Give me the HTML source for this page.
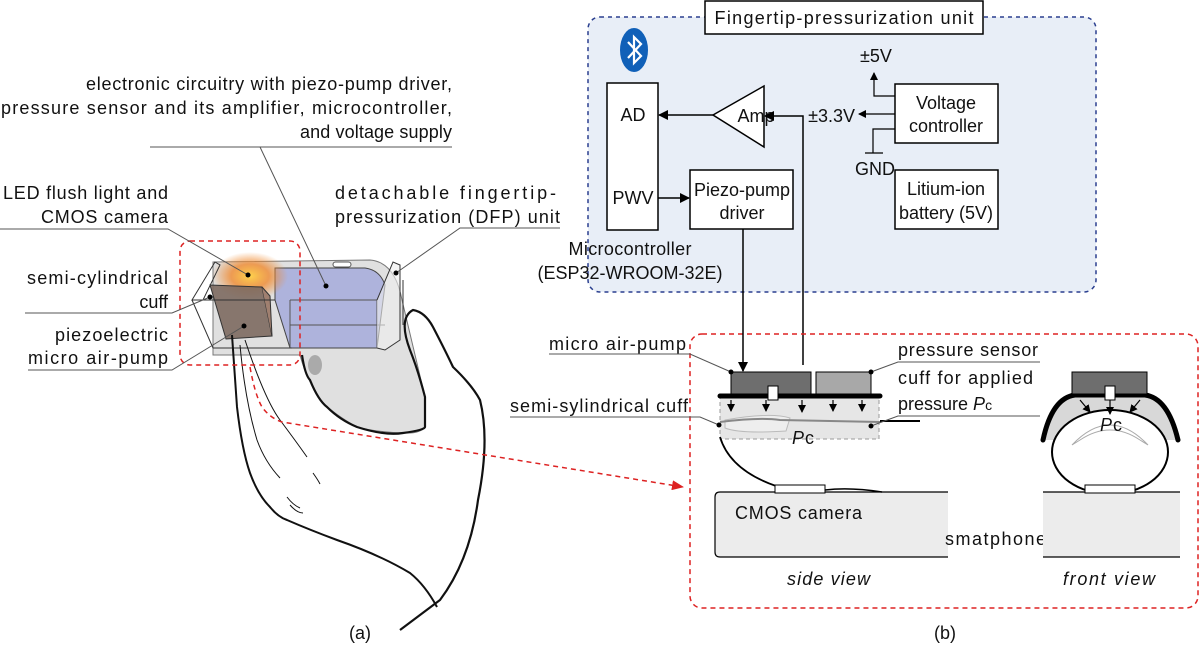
<!DOCTYPE html>
<html><head><meta charset="utf-8"><style>
html,body{margin:0;padding:0;background:#fff}
svg{display:block}
text{font-family:"Liberation Sans",sans-serif;font-size:18px;fill:#111}
</style></head><body>
<svg width="1200" height="649" viewBox="0 0 1200 649" xmlns="http://www.w3.org/2000/svg">
<defs>
<marker id="ah" markerWidth="10" markerHeight="10" refX="9" refY="5" orient="auto" markerUnits="userSpaceOnUse"><path d="M0,0 L10,5 L0,10 z" fill="#000"/></marker>
<marker id="ahs" markerWidth="8" markerHeight="8" refX="7" refY="4" orient="auto" markerUnits="userSpaceOnUse"><path d="M0,0 L8,4 L0,8 z" fill="#000"/></marker>
<marker id="ahr" markerWidth="12" markerHeight="10" refX="11" refY="5" orient="auto" markerUnits="userSpaceOnUse"><path d="M0,0 L12,5 L0,10 z" fill="#d22"/></marker>
<radialGradient id="glow" cx="0.5" cy="0.5" r="0.5"><stop offset="0" stop-color="#ffd34d"/><stop offset="0.5" stop-color="#f08a30" stop-opacity="0.8"/><stop offset="1" stop-color="#f08a30" stop-opacity="0"/></radialGradient>
</defs>

<!-- ===== (a) ===== -->
<path d="M213,262 L370,260 Q395,262 402,300 L425,397 L425,427 Q420,434 403,433 Q375,432 357,427 Q335,415 320,400 Q305,375 300,355 L213,355 Z" fill="#e0e0e0" stroke="#777" stroke-width="1"/>
<path d="M275,268 L365,268 Q380,270 385,285 L377,348 L290,348 L275,300 Z" fill="#a8aedb" fill-opacity="0.9" stroke="#444" stroke-width="1"/>
<path d="M290,300 L377,300 L377,348 M290,300 L290,348 M290,325 L385,325" stroke="#555" fill="none"/>
<path d="M377,300 L393,262 L400,265 L400,340 L385,350 L377,348" fill="#eee" fill-opacity="0.6" stroke="#333"/>
<path d="M403,280 L403,325" stroke="#333"/>
<rect x="333" y="262" width="18" height="5" rx="2.5" fill="#fff" stroke="#555"/>
<ellipse cx="250" cy="276" rx="38" ry="24" fill="url(#glow)"/>
<path d="M210,285 L262,287 L272,336 L226,339 Z" fill="#7d6a60" fill-opacity="0.9" stroke="#333"/>
<path d="M262,287 L270,296 L272,336" fill="#a08070" stroke="#333"/>
<path d="M192,300 L215,262 L220,265 L203,300 Z M192,300 L213,348 L292,348 M192,300 L275,300" fill="none" stroke="#333"/>
<ellipse cx="315" cy="365" rx="7" ry="10" fill="#aaa"/>
<path d="M302,355 Q305,375 310,380 Q318,400 327,407 Q340,420 357,427 Q385,436 403,433 Q425,430 425,427 L425,397 Q418,370 410,350 Q398,318 413,310 Q425,312 433,327 Q445,350 453,367 Q472,385 480,400 Q490,440 478,500 Q470,560 440,600 L400,630" fill="none" stroke="#111" stroke-width="2.2"/>
<path d="M232,335 Q235,380 237,407 Q242,450 250,473 Q258,495 270,507 Q278,517 287,520 Q310,530 337,540 Q380,555 410,573 Q425,585 437,607" fill="none" stroke="#111" stroke-width="2"/>
<path d="M240,345 Q245,400 257,440 Q265,462 280,478" fill="none" stroke="#111" stroke-width="1"/>
<path d="M245,340 Q265,400 280,420 Q295,440 307,457" fill="none" stroke="#111" stroke-width="1"/>
<path d="M313,473 Q318,480 320,484 M287,497 Q293,505 300,508 M290,505 Q297,513 303,513" fill="none" stroke="#111" stroke-width="1"/>
<rect x="180" y="241" width="120" height="124" rx="10" fill="none" stroke="#d22" stroke-width="1.5" stroke-dasharray="5,4"/>
<path d="M250,367 Q255,395 262,407 Q270,418 282,422 L683,487" fill="none" stroke="#d22" stroke-width="1.5" stroke-dasharray="5,4" marker-end="url(#ahr)"/>

<g text-anchor="end" font-size="19">
<text x="452" y="90" textLength="366" lengthAdjust="spacing">electronic circuitry with piezo-pump driver,</text>
<text x="452" y="114" textLength="451" lengthAdjust="spacing">pressure sensor and its amplifier, microcontroller,</text>
<text x="452" y="138" textLength="152" lengthAdjust="spacing">and voltage supply</text>
<text x="168" y="199" textLength="165" lengthAdjust="spacing">LED flush light and</text>
<text x="168" y="223" textLength="127" lengthAdjust="spacing">CMOS camera</text>
<text x="168" y="284" textLength="141" lengthAdjust="spacing">semi-cylindrical</text>
<text x="168" y="308">cuff</text>
<text x="168" y="341" textLength="113" lengthAdjust="spacing">piezoelectric</text>
<text x="168" y="364" textLength="140" lengthAdjust="spacing">micro air-pump</text>
</g>
<text x="335" y="199" font-size="19" textLength="221" lengthAdjust="spacing">detachable fingertip-</text>
<text x="335" y="223" font-size="19" textLength="225" lengthAdjust="spacing">pressurization (DFP) unit</text>
<g stroke="#555" stroke-width="1" fill="none">
<path d="M452,147 L150,147 M260,147 L326,286"/>
<path d="M0,229 L168,229 L248,275"/>
<path d="M25,313 L172,313 L210,297"/>
<path d="M28,370 L172,370 L244,326"/>
<path d="M560,228 L460,228 L396,273"/>
</g>
<g fill="#000"><circle cx="326" cy="286" r="2.5"/><circle cx="248" cy="275" r="2.5"/><circle cx="210" cy="297" r="2.5"/><circle cx="244" cy="326" r="2.5"/><circle cx="396" cy="273" r="2.5"/></g>
<text x="360" y="639" text-anchor="middle" font-size="19">(a)</text>

<!-- ===== (b) top ===== -->
<rect x="588" y="17" width="508" height="275" rx="12" fill="#e8eef7" stroke="#2a3f8f" stroke-width="1.5" stroke-dasharray="4,4"/>
<rect x="705" y="1" width="278" height="33" fill="#fff" stroke="#000" stroke-width="1.5"/>
<text x="844" y="24" text-anchor="middle" font-size="19" textLength="259" lengthAdjust="spacing">Fingertip-pressurization unit</text>
<ellipse cx="634" cy="50" rx="14" ry="22" fill="#1060b8"/>
<path d="M628,42 L641,56 L634,63 L634,37 L641,44 L628,58" fill="none" stroke="#fff" stroke-width="2.2"/>
<rect x="607" y="83" width="51" height="147" fill="#fff" stroke="#000" stroke-width="1.5"/>
<text x="633" y="121" text-anchor="middle">AD</text>
<text x="633" y="204" text-anchor="middle">PWV</text>
<polygon points="713,115 764,86 764,147" fill="#fff" stroke="#000" stroke-width="1.5"/>
<text x="756" y="122" text-anchor="middle">Amp</text>
<path d="M713,115 L659,115" stroke="#000" stroke-width="1.5" marker-end="url(#ah)"/>
<path d="M803,365 L803,116 L765,116" fill="none" stroke="#000" stroke-width="1.5" marker-end="url(#ah)"/>
<rect x="690" y="170" width="103" height="59" fill="#fff" stroke="#000" stroke-width="1.5"/>
<text x="742" y="196" text-anchor="middle">Piezo-pump</text>
<text x="742" y="219" text-anchor="middle">driver</text>
<path d="M658,198 L689,198" stroke="#000" stroke-width="1.5" marker-end="url(#ah)"/>
<rect x="895" y="84" width="103" height="59" fill="#fff" stroke="#000" stroke-width="1.5"/>
<text x="946" y="109" text-anchor="middle">Voltage</text>
<text x="946" y="132" text-anchor="middle">controller</text>
<rect x="895" y="170" width="103" height="59" fill="#fff" stroke="#000" stroke-width="1.5"/>
<text x="946" y="195" text-anchor="middle">Litium-ion</text>
<text x="946" y="219" text-anchor="middle">battery (5V)</text>
<path d="M895,96 L874,96 L874,73" fill="none" stroke="#000" stroke-width="1.2" marker-end="url(#ahs)"/>
<text x="876" y="62" text-anchor="middle">±5V</text>
<path d="M895,114 L859,114" stroke="#000" stroke-width="1.2" marker-end="url(#ahs)"/>
<text x="855" y="122" text-anchor="end">±3.3V</text>
<path d="M895,129 L873,129 L873,153 M865,153 L883,153" fill="none" stroke="#000" stroke-width="1.2"/>
<text x="875" y="175" text-anchor="middle">GND</text>
<text x="630" y="255" text-anchor="middle" textLength="123" lengthAdjust="spacing">Microcontroller</text>
<text x="630" y="279" text-anchor="middle" font-size="17">(ESP32-WROOM-32E)</text>

<!-- ===== (b) bottom ===== -->
<rect x="690" y="334" width="508" height="274" rx="12" fill="none" stroke="#d22" stroke-width="1.5" stroke-dasharray="5,4"/>
<path d="M743,229 L743,371" stroke="#000" stroke-width="1.5" marker-end="url(#ah)"/>
<rect x="720" y="398" width="159" height="41" fill="#e6e6e6" stroke="#999" stroke-dasharray="4,3"/>
<path d="M725,420 Q770,412 790,418 L786,431 Q740,434 725,428 Z" fill="#eee" stroke="#bbb"/>
<path d="M720,422 Q760,417 780,420 L880,422" fill="none" stroke="#888" stroke-width="2"/>
<path d="M880,421 L920,421" stroke="#000" stroke-width="2"/>
<rect x="731" y="372" width="80" height="22" fill="#6e6e6e" stroke="#000"/>
<rect x="816" y="372" width="55" height="22" fill="#a8a8a8" stroke="#000"/>
<path d="M720,396 L880,396" stroke="#000" stroke-width="5" stroke-linecap="round"/>
<rect x="768" y="386" width="10" height="14" fill="#fff" stroke="#000"/>
<g stroke="#000" stroke-width="1.2">
<path d="M731,400 L731,411" marker-end="url(#ahs)"/><path d="M766,400 L766,411" marker-end="url(#ahs)"/><path d="M802,400 L802,412" marker-end="url(#ahs)"/><path d="M833,400 L833,411" marker-end="url(#ahs)"/><path d="M862,400 L862,411" marker-end="url(#ahs)"/>
</g>
<text x="792" y="444" font-style="italic" font-size="19">P</text><text x="805" y="444" font-size="14">c</text>
<path d="M720,437 Q730,470 776,486" fill="none" stroke="#000" stroke-width="1.8"/>
<path d="M715,497 Q715,492 720,492 L948,492 L948,557 L720,557 Q715,557 715,552 Z" fill="#ececec"/>
<path d="M948,492 L720,492 Q715,492 715,497 L715,552 Q715,557 720,557 L948,557" fill="none" stroke="#000" stroke-width="1.2"/>
<path d="M825,490 Q850,487 882,492" fill="none" stroke="#000" stroke-width="1.4"/>
<rect x="775" y="485" width="50" height="8" fill="#fff" stroke="#000"/>
<text x="735" y="519" font-size="19" textLength="127" lengthAdjust="spacing">CMOS camera</text>
<text x="945" y="545" font-size="19" textLength="101" lengthAdjust="spacing">smatphone</text>
<text x="787" y="585" font-style="italic" font-size="19" textLength="83" lengthAdjust="spacing">side view</text>

<!-- front view -->
<path d="M1043,440 Q1055,395 1080,395 L1142,395 Q1168,395 1178,440 Z" fill="#d8d8d8"/>
<ellipse cx="1110" cy="452" rx="58" ry="42" fill="#fff" stroke="#000" stroke-width="2"/>
<path d="M1072,445 Q1110,405 1148,445 L1140,440 Q1110,420 1080,440 Z" fill="none" stroke="#aaa"/>
<path d="M1043,440 Q1052,398 1075,395 L1145,395 Q1168,398 1178,440" fill="none" stroke="#000" stroke-width="5" stroke-linecap="round"/>
<rect x="1072" y="372" width="75" height="22" fill="#6e6e6e" stroke="#000"/>
<rect x="1105" y="386" width="10" height="14" fill="#fff" stroke="#000"/>
<g stroke="#000" stroke-width="1.2">
<path d="M1080,400 L1090,412" marker-end="url(#ahs)"/><path d="M1110,400 L1110,414" marker-end="url(#ahs)"/><path d="M1140,400 L1130,412" marker-end="url(#ahs)"/>
</g>
<text x="1100" y="431" font-style="italic" font-size="19">P</text><text x="1113" y="431" font-size="14">c</text>
<rect x="1043" y="492" width="137" height="65" fill="#ececec"/>
<path d="M1043,492 L1180,492 M1043,557 L1180,557" stroke="#000" stroke-width="1.2"/>
<rect x="1085" y="485" width="50" height="8" fill="#fff" stroke="#000"/>
<text x="1063" y="585" font-style="italic" font-size="19" textLength="92" lengthAdjust="spacing">front view</text>

<!-- labels (b) -->
<text x="549" y="350" font-size="19" textLength="137" lengthAdjust="spacing">micro air-pump</text>
<text x="898" y="356" font-size="19" textLength="140" lengthAdjust="spacing">pressure sensor</text>
<text x="898" y="384" font-size="19" textLength="135" lengthAdjust="spacing">cuff for applied</text>
<text x="898" y="410" font-size="19">pressure <tspan font-style="italic">P</tspan><tspan font-size="14">c</tspan></text>
<text x="510" y="412" font-size="19" textLength="178" lengthAdjust="spacing">semi-sylindrical cuff</text>
<g stroke="#555" stroke-width="1" fill="none">
<path d="M549,354 L690,354 L731,372"/>
<path d="M1040,362 L898,362 L871,372"/>
<path d="M1040,416 L898,416 L871,426"/>
<path d="M510,417 L700,417 L719,425"/>
</g>
<g fill="#000"><circle cx="731" cy="372" r="2.5"/><circle cx="871" cy="372" r="2.5"/><circle cx="871" cy="426" r="2.5"/><circle cx="719" cy="425" r="2.5"/></g>
<text x="945" y="639" text-anchor="middle" font-size="19">(b)</text>
</svg>
</body></html>
